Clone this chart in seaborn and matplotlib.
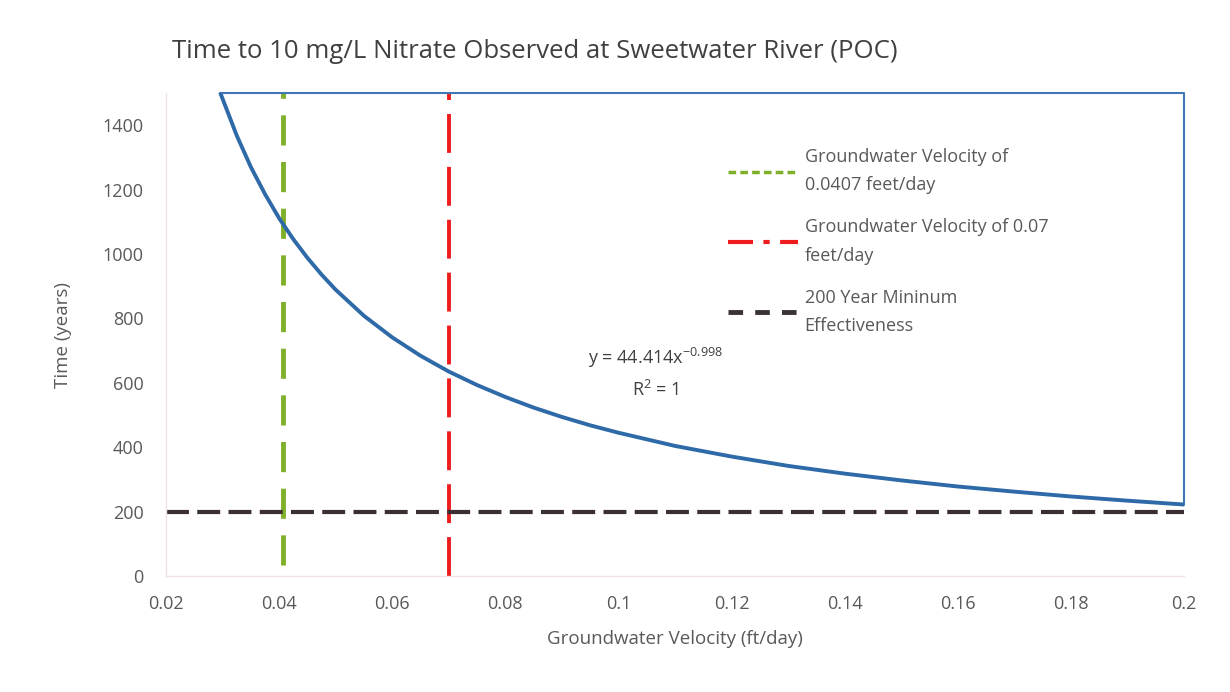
import matplotlib
matplotlib.use("Agg")
import matplotlib.pyplot as plt
import seaborn as sns
import pandas as pd
from matplotlib.lines import Line2D

# curve (velocity ft/day -> years)
velocity = [0.0296, 0.0325, 0.035, 0.0375, 0.04, 0.0425, 0.045, 0.0475, 0.05, 0.055,
            0.06, 0.065, 0.07, 0.075, 0.08, 0.085, 0.09, 0.095, 0.10, 0.11,
            0.12, 0.13, 0.14, 0.15, 0.16, 0.17, 0.18, 0.19, 0.20]
years = [1500, 1368, 1270, 1186, 1111, 1046, 988, 936, 889, 808,
         741, 684, 635, 593, 556, 523, 494, 468, 445, 404,
         371, 342, 318, 297, 278, 262, 247, 234, 222]

green_x = 0.0407
red_x = 0.07
min_years = 200

title = "Time to 10 mg/L Nitrate Observed at Sweetwater River (POC)"
xlabel = "Groundwater Velocity (ft/day)"
ylabel = "Time (years)"
legend_labels = ["Groundwater Velocity of\n0.0407 feet/day",
                 "Groundwater Velocity of 0.07\nfeet/day",
                 "200 Year Mininum\nEffectiveness"]
xticks = [0.02, 0.04, 0.06, 0.08, 0.1, 0.12, 0.14, 0.16, 0.18, 0.2]
xticklabels = ["0.02", "0.04", "0.06", "0.08", "0.1", "0.12", "0.14", "0.16", "0.18", "0.2"]
yticks = [0, 200, 400, 600, 800, 1000, 1200, 1400]

sns.set_style("white")
plt.rcParams["font.family"] = ["Open Sans", "DejaVu Sans"]
txt = "#595959"

df = pd.DataFrame({"v": velocity, "t": years})

fig = plt.figure(figsize=(12.3, 6.92), dpi=100)
ax = fig.add_axes([0.135, 0.1676, 0.8276, 0.698])

xmin, xmax, ymin, ymax = 0.02, 0.2, 0, 1500

# blue outline along the top and right edge of the series shape
ax.plot([df.v.iloc[0], xmax, xmax], [ymax, ymax, df.t.iloc[-1]], color="#3f78b5",
        lw=1.5, zorder=3, clip_on=False)
sns.lineplot(data=df, x="v", y="t", ax=ax, color="#2e6aa8", lw=2.8, zorder=4)

ax.plot([green_x, green_x], [ymin + 35, ymax], color="#7fb02a", lw=3.5, dashes=(6.2, 3.4), zorder=2)
ax.plot([red_x, red_x], [ymin, ymax], color="#ee1c1c", lw=2.8, dashes=(10, 3.6), zorder=2)
ax.plot([xmin, xmax], [min_years, min_years], color="#3b2f33", lw=3, dashes=(5.5, 2), zorder=2)

ax.set_xlim(xmin, xmax)
ax.set_ylim(ymin, ymax)
ax.set_xticks(xticks)
ax.set_xticklabels(xticklabels)
ax.set_yticks(yticks)
ax.tick_params(axis="both", labelsize=13, colors=txt, length=0)
ax.tick_params(axis="y", pad=16)
ax.tick_params(axis="x", pad=14)
ax.set_xlabel(xlabel, fontsize=13.5, color=txt, labelpad=12)
ax.set_ylabel(ylabel, fontsize=13.5, color=txt, labelpad=22)
for side in ["top", "right"]:
    ax.spines[side].set_visible(False)
for side in ["left", "bottom"]:
    ax.spines[side].set_color("#f3e4e4")
    ax.spines[side].set_linewidth(1)

fig.text(0.14, 0.925, title, fontsize=18.5, color="#404040", ha="left", va="center")

ax.text(0.1065, 677, r"y = 44.414x$^{\mathregular{-0.998}}$", fontsize=13, color="#404040",
        ha="center", va="center")
ax.text(0.1065, 577, r"R$^{\mathregular{2}}$ = 1", fontsize=13, color="#404040",
        ha="center", va="center")

handles = [
    Line2D([], [], color="#7fb02a", lw=2.5, dashes=(2.2, 1.2)),
    Line2D([], [], color="#ee1c1c", lw=3, dashes=(6, 2.5, 1.5, 2.5)),
    Line2D([], [], color="#3a3236", lw=3.5, dashes=(3, 2.5)),
]
leg = ax.legend(handles, legend_labels, loc="upper left", bbox_to_anchor=(0.536, 0.92),
                frameon=False, fontsize=13, labelcolor=txt, handlelength=3.9,
                handletextpad=0.35, labelspacing=1.32)
for t in leg.get_texts():
    t.set_linespacing(1.75)

fig.savefig("out.png", dpi=100)
